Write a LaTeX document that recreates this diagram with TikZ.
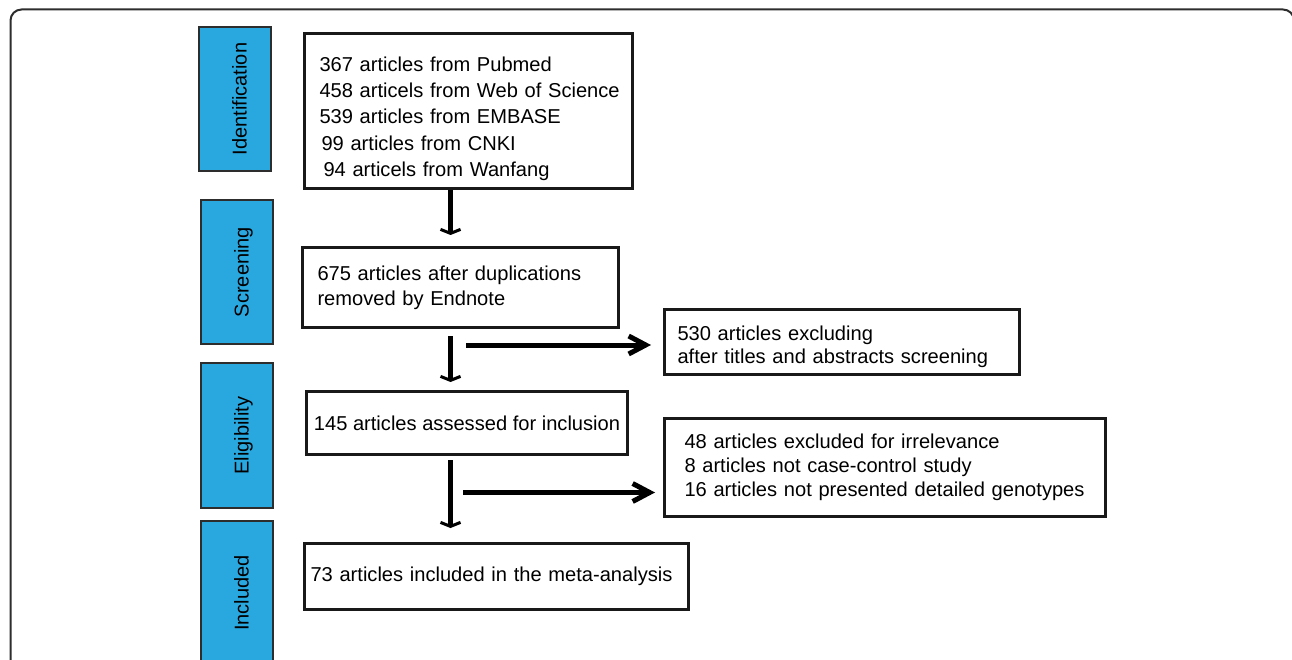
\documentclass[tikz,border=0pt]{standalone}
\usepackage{fontspec}
\setmainfont{Liberation Sans}
\usetikzlibrary{arrows.meta}
\definecolor{stageblue}{RGB}{41,168,224}
\definecolor{edgegray}{RGB}{45,45,45}
\definecolor{boxline}{RGB}{25,25,25}
\begin{document}
\begin{tikzpicture}[x=1pt,y=-1pt,
  txtbox/.style={draw=boxline, line width=3pt, anchor=north west, inner ysep=0pt, align=left},
  stagebox/.style={draw=edgegray, line width=2pt, fill=stageblue, rotate=90,
     font=\fontsize{20}{24}\selectfont, inner sep=0pt, text height=23pt, text depth=0pt},
  darrow/.style={line width=5pt, -{Straight Barb[length=4pt,width=20pt,line width=3pt]}},
  rarrow/.style={line width=5pt, -{Straight Barb[length=17pt,width=18pt,line width=5pt]}}]
\useasboundingbox (0,0) rectangle (1292,660);
\clip (0,0) rectangle (1292,660);
\fill[white] (0,0) rectangle (1292,660);
% outer frame
\draw[edgegray, line width=2pt, rounded corners=11pt] (10.5,9.5) rectangle (1294,720);

% stage labels
\node[stagebox, minimum width=144pt, minimum height=72pt] (sid) at (235,99) {Identification};
\node[stagebox, minimum width=144pt, minimum height=72pt] (sscr) at (237,272) {Screening};
\node[stagebox, minimum width=145pt, minimum height=72pt] (selg) at (237,435.5) {Eligibility};
\node[stagebox, minimum width=144pt, minimum height=72pt] (sinc) at (237,593) {Included};

% boxes
\node[txtbox, font=\fontsize{20.1}{26.25}\selectfont, inner xsep=4pt, text width=320pt,
      minimum height=155pt, text height=15pt, text depth=94pt] (idbox) at (303,32)
  {\hspace*{11pt}367 articles from Pubmed\\
   \hspace*{11pt}458 articels from Web of Science\\
   \hspace*{11pt}539 articles from EMBASE\\
   \hspace*{13pt}99 articles from CNKI\\
   \hspace*{15pt}94 articels from Wanfang};

\node[txtbox, font=\fontsize{20.1}{25}\selectfont, inner xsep=15pt, text width=286pt,
      minimum height=80pt] (scrbox) at (301,246)
  {675 articles after duplications\\removed by Endnote};

\node[txtbox, font=\fontsize{20.1}{23}\selectfont, inner xsep=13pt, text width=329pt,
      minimum height=65pt, text height=15pt, text depth=19pt] (exbox1) at (663,308)
  {530 articles excluding\\after titles and abstracts screening};

\node[txtbox, font=\fontsize{20.1}{24}\selectfont, inner xsep=0pt, align=center,
      minimum width=321pt, minimum height=63pt] (elbox) at (305,390)
  {145 articles assessed for inclusion};

\node[txtbox, font=\fontsize{20.1}{24}\selectfont, inner xsep=16pt, text width=409pt,
      minimum height=98pt] (exbox2) at (663,417)
  {\hspace*{4pt}48 articles excluded for irrelevance\\
   \hspace*{4pt}8 articles not case-control study\\
   \hspace*{4pt}16 articles not presented detailed genotypes};

\node[txtbox, font=\fontsize{20.1}{24}\selectfont, inner xsep=6pt, text width=372pt,
      minimum height=66pt] (incbox) at (303,542)
  {73 articles included in the meta-analysis};

% connectors
\coordinate (col) at (450.5,0);
\coordinate (r1) at (466,345);
\coordinate (r2) at (463,492.5);
\draw[darrow, shorten >=11pt] (idbox.south -| col) -- (scrbox.north -| col);
\draw[darrow, shorten <=7pt, shorten >=8pt] (scrbox.south -| col) -- (elbox.north -| col);
\draw[darrow, shorten <=4pt, shorten >=14pt] (elbox.south -| col) -- (incbox.north -| col);
\draw[rarrow, shorten >=12pt] (r1) -- (r1 -| exbox1.west);
\draw[rarrow, shorten >=8pt] (r2) -- (r2 -| exbox2.west);
\end{tikzpicture}
\end{document}
